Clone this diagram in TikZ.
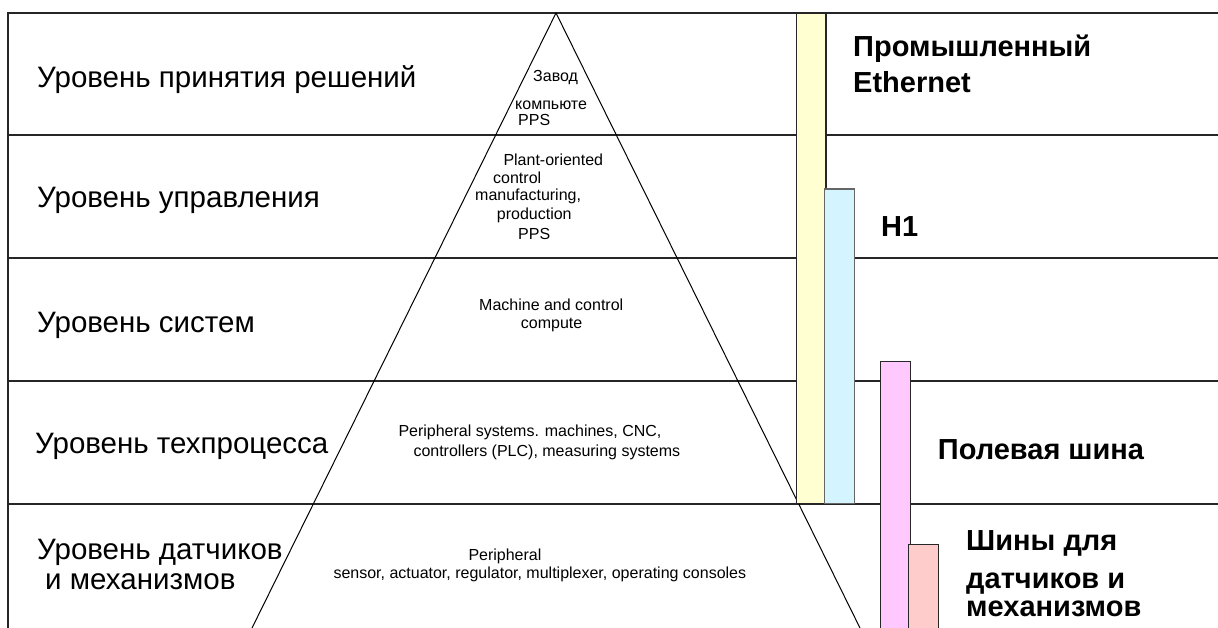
\documentclass[tikz,border=0pt]{standalone}
\usepackage{fontspec}
\setmainfont{Liberation Sans}
\definecolor{ethfill}{HTML}{FFFFD2}
\definecolor{hfill}{HTML}{D4F4FF}
\definecolor{fbfill}{HTML}{FFC8FF}
\definecolor{sbfill}{HTML}{FFCCCC}
\tikzset{
  frameline/.style={line width=1.2pt, draw=black!85},
  pyrline/.style={line width=1pt, draw=black},
  bar/.style={line width=1.1pt, draw=black!85},
  levellabel/.style={anchor=base west, inner sep=0pt, font=\fontsize{29.5}{32}\selectfont},
  buslabel/.style={anchor=base west, inner sep=0pt, font=\fontsize{29}{32}\bfseries\selectfont},
  smalltext/.style={anchor=base west, inner sep=0pt, font=\fontsize{16}{18}\selectfont}
}
\begin{document}
\begin{tikzpicture}[x=1pt,y=-1pt]
\useasboundingbox (0,0) rectangle (1218,628);
\fill[white] (0,0) rectangle (1218,628);

% level grid
\coordinate (tl) at (8,13);
\coordinate (tr) at (1218,13);
\coordinate (bl) at (8,628);
\draw[frameline] (bl) -- (tl) -- (tr);
\foreach \yy/\nm in {135/a,258/b,381/c,504/d} {
  \coordinate (l\nm) at (8,\yy);
  \coordinate (r\nm) at (1218,\yy);
  \draw[frameline] (l\nm) -- (r\nm);
}

% pyramid
\coordinate (apex) at (556,13);
\coordinate (pyl) at (252,628);
\coordinate (pyr) at (860,628);
\draw[pyrline] (pyl) -- (apex) -- (pyr);

% bus bars
\draw[bar, fill=ethfill] (796.7,13) rectangle (826,503.5);
\draw[bar, fill=hfill, draw=black!60] (824.5,189) rectangle (854.7,503.5);
\draw[bar, fill=fbfill] (880.3,361.7) rectangle (910.7,640);
\draw[bar, fill=sbfill] (908.3,544.3) rectangle (938.3,640);

% level names
\node[levellabel] (lv1) at (37,88) {Уровень принятия решений};
\node[levellabel] (lv2) at (37,208) {Уровень управления};
\node[levellabel] (lv3) at (37,333) {Уровень систем};
\node[levellabel] (lv4) at (35,453) {Уровень техпроцесса};
\node[levellabel] (lv5a) at (37,559) {Уровень датчиков};
\node[levellabel] (lv5b) at (45,589) {и механизмов};

% pyramid contents
\node[smalltext] (p1a) at (533,81.7) {Завод};
\node[smalltext] (p1b) at (515,110) {компьюте};
\node[smalltext] (p1c) at (518,126) {PPS};
\node[smalltext] (p2a) at (503.3,165.7) {Plant-oriented};
\node[smalltext] (p2b) at (493,184) {control};
\node[smalltext] (p2c) at (475,201) {manufacturing,};
\node[smalltext] (p2d) at (496.7,220) {production};
\node[smalltext] (p2e) at (518,240) {PPS};
\node[smalltext] (p3a) at (479,310) {Machine and control};
\node[smalltext] (p3b) at (520.7,328.3) {compute};
\node[smalltext] (p4a) at (398.3,436.7) {Peripheral systems. machines, CNC,};
\node[smalltext] (p4b) at (413.3,456) {controllers (PLC), measuring systems};
\node[smalltext] (p5a) at (468.3,560) {Peripheral};
\node[smalltext] (p5b) at (333.3,578.3) {sensor, actuator, regulator, multiplexer, operating consoles};

% bus names
\node[buslabel] (b1a) at (853,56.7) {Промышленный};
\node[buslabel] (b1b) at (853,92.7) {Ethernet};
\node[buslabel] (b2) at (881,236.7) {H1};
\node[buslabel] (b3) at (937.7,459.3) {Полевая шина};
\node[buslabel] (b4a) at (966,550.7) {Шины для};
\node[buslabel] (b4b) at (966,588) {датчиков и};
\node[buslabel] (b4c) at (966,616.7) {механизмов};
\end{tikzpicture}
\end{document}
